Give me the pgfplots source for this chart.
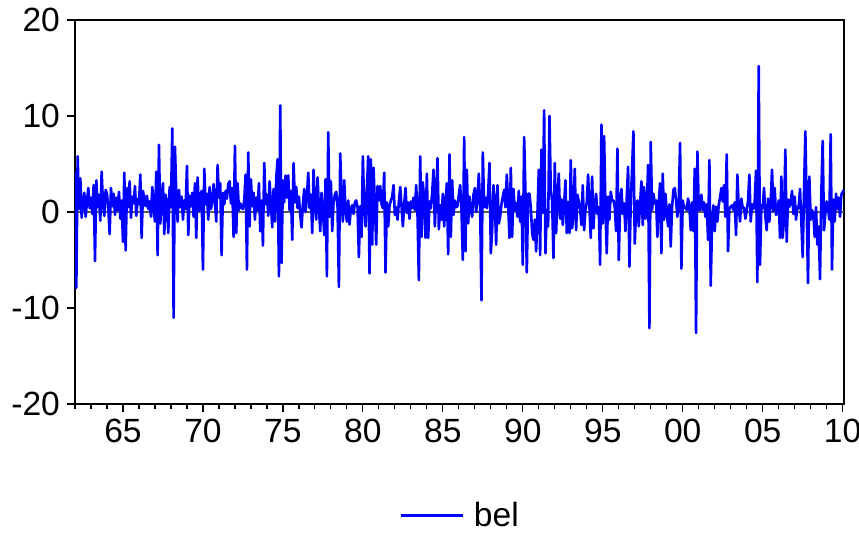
\documentclass[border=0pt]{standalone}
\usepackage{fontspec}
\setmainfont{Liberation Sans}
\usepackage{pgfplots}
\pgfplotsset{compat=1.18}
\begin{document}
\begin{tikzpicture}
\useasboundingbox (-37.5pt,-65pt) rectangle (392pt,202pt);
\begin{axis}[
  at={(0,0)}, anchor=south west,
  scale only axis, width=384.5pt, height=192pt,
  xmin=0, xmax=577, ymin=-20, ymax=20,
  axis line style={line width=1pt},
  xtick={36,96,...,576},
  xticklabels={65,70,75,80,85,90,95,00,05,10},
  minor xtick={0,12,...,576},
  ytick={-20,-10,0,10,20},
  yticklabels={-20,-10,0,10,20},
  xtick pos=lower, ytick pos=left,
  tick align=outside,
  major tick length=4pt, minor tick length=2.5pt,
  every tick/.style={black, line width=0.6pt},
  tick label style={font=\fontsize{16.8}{18}\selectfont},
  legend style={at={(0.502,-0.29)}, anchor=center, draw=none, fill=none,
    font=\fontsize{16.8}{18}\selectfont},
  legend image code/.code={\draw[#1] (0pt,0pt) -- (31pt,0pt);},
]
\addplot[color=black!65, line width=0.7pt, forget plot] coordinates {(0,0) (577,0)};
\addplot[color={rgb,1:red,0;green,0;blue,1}, line width=1.3pt, line join=round, mark=none]
  table[row sep=\\, header=false, x expr=\coordindex, y index=0] {
4.2\\ -7.9\\ 5.8\\ 0.3\\ 3.5\\ -0.6\\ 1.2\\ 2.0\\ -0.5\\ 1.1\\ 2.5\\ 0.4\\
1.5\\ -0.2\\ 2.8\\ -5.1\\ 3.3\\ 0.5\\ 1.8\\ -0.9\\ 4.2\\ 0.8\\ -0.4\\ 2.3\\
1.9\\ 0.4\\ -2.3\\ 2.5\\ 0.6\\ 1.9\\ -0.3\\ 1.5\\ 0.2\\ 2.1\\ -0.7\\ 1.2\\
-3.1\\ 4.1\\ -4.0\\ 2.5\\ 0.5\\ 3.2\\ -0.6\\ 1.6\\ 0.9\\ 2.7\\ -0.4\\ 1.3\\
0.8\\ 3.9\\ -2.7\\ 2.2\\ 1.4\\ 0.6\\ 1.7\\ 0.3\\ 1.1\\ -0.5\\ 2.6\\ 0.4\\
-1.0\\ 4.2\\ -4.5\\ 7.0\\ -1.2\\ 1.5\\ 3.0\\ -2.3\\ 1.8\\ 0.9\\ -2.2\\ 2.6\\
0.5\\ 8.7\\ -11.0\\ 6.8\\ 2.0\\ -1.0\\ 2.3\\ 0.5\\ 1.6\\ -0.8\\ 1.2\\ 0.3\\
4.8\\ -2.4\\ 1.7\\ 0.6\\ 2.0\\ -0.5\\ 3.0\\ -2.7\\ 3.6\\ 0.1\\ 1.5\\ 2.2\\
-6.0\\ 4.5\\ 0.8\\ 1.9\\ -0.8\\ 2.6\\ 0.3\\ 1.0\\ 2.9\\ 1.2\\ -1.0\\ 4.9\\
1.5\\ 3.0\\ -4.5\\ 2.0\\ 0.8\\ 2.2\\ 1.4\\ 2.9\\ 3.2\\ 0.9\\ 2.5\\ -2.6\\
6.9\\ -2.2\\ 3.0\\ 0.2\\ 0.9\\ 0.5\\ 0.3\\ 1.2\\ 3.9\\ -6.0\\ 6.2\\ -1.5\\
3.4\\ 0.6\\ 2.0\\ -0.8\\ 1.5\\ 0.2\\ 3.0\\ -2.0\\ 1.2\\ -3.5\\ 5.1\\ 0.8\\
1.8\\ -0.4\\ 3.2\\ 0.9\\ -1.6\\ 2.4\\ -1.0\\ 3.5\\ 5.5\\ -6.7\\ 11.1\\ -5.3\\
3.3\\ 1.0\\ 3.8\\ 1.5\\ 3.8\\ 0.2\\ 2.2\\ -2.9\\ 5.1\\ 1.0\\ 2.6\\ 0.4\\
1.6\\ -0.3\\ -1.6\\ 0.8\\ 2.4\\ 0.0\\ 1.5\\ 4.1\\ 0.4\\ 1.8\\ -2.2\\ 4.4\\
0.6\\ -0.8\\ 3.6\\ 0.5\\ -2.0\\ 2.0\\ 0.3\\ -2.4\\ 3.4\\ -6.7\\ 8.3\\ -0.5\\
3.2\\ -2.0\\ 1.0\\ 1.8\\ 2.1\\ 0.5\\ -7.8\\ 6.1\\ 1.5\\ -1.0\\ 3.3\\ 0.2\\
-1.0\\ 1.2\\ -1.3\\ 0.4\\ 0.7\\ -0.2\\ 1.0\\ 1.2\\ 0.5\\ -4.7\\ 0.6\\ -2.6\\
5.8\\ 0.5\\ -1.5\\ 2.3\\ 5.8\\ -6.4\\ 5.5\\ -3.4\\ 4.6\\ 0.8\\ -3.4\\ 2.7\\
1.2\\ 2.7\\ 0.8\\ 0.4\\ 4.1\\ -6.3\\ 1.0\\ -1.5\\ 0.6\\ 1.2\\ 1.6\\ 2.8\\
-0.3\\ 0.5\\ -0.8\\ 1.0\\ 2.6\\ 0.6\\ -1.5\\ 0.8\\ 2.5\\ -0.1\\ 1.0\\ -0.7\\
1.1\\ 0.4\\ 1.5\\ 0.2\\ 2.8\\ -0.3\\ -7.1\\ 5.8\\ -2.6\\ 3.1\\ 1.2\\ -2.7\\
4.0\\ -2.7\\ 1.1\\ 0.4\\ 2.0\\ 4.4\\ -1.5\\ 1.8\\ 5.6\\ -1.8\\ 0.7\\ -0.8\\
1.9\\ -1.5\\ 1.0\\ 3.0\\ -4.4\\ 6.0\\ -2.6\\ 3.3\\ -0.3\\ 1.2\\ 0.5\\ 0.6\\
1.8\\ 2.8\\ 0.2\\ -5.0\\ 7.8\\ -4.1\\ 4.4\\ -1.2\\ 1.6\\ 0.3\\ -0.5\\ 1.8\\
2.5\\ 0.0\\ 1.5\\ 4.0\\ 0.4\\ -9.2\\ 6.2\\ 0.5\\ 1.5\\ 0.4\\ 2.0\\ 5.1\\
-4.3\\ -1.9\\ 2.8\\ 1.0\\ -3.4\\ 2.8\\ -1.2\\ -0.5\\ 0.8\\ 1.6\\ 2.3\\ 0.5\\
3.9\\ 0.8\\ -2.7\\ 4.6\\ -2.6\\ 2.4\\ 0.2\\ 0.9\\ -0.5\\ 2.2\\ -1.0\\ 1.6\\
-5.5\\ 7.8\\ 2.0\\ -6.3\\ 1.9\\ 1.9\\ 0.5\\ -2.2\\ -2.9\\ -0.8\\ -4.1\\ -0.1\\
4.4\\ -4.5\\ 6.5\\ -0.1\\ 10.6\\ -4.3\\ 0.2\\ -1.5\\ 10.0\\ 2.3\\ 1.2\\ -4.8\\
5.1\\ -2.2\\ 1.5\\ 4.0\\ -0.7\\ 1.3\\ -1.35\\ 0.8\\ 3.3\\ -2.2\\ 1.0\\ -2.2\\
5.4\\ -1.7\\ -0.2\\ 4.5\\ -1.9\\ 1.8\\ 1.1\\ 0.3\\ -1.35\\ 2.8\\ -1.9\\ 0.2\\
1.0\\ 3.9\\ 0.5\\ -2.7\\ 3.7\\ -1.7\\ 0.8\\ 1.9\\ -0.2\\ 0.5\\ -5.5\\ 9.1\\
-1.2\\ 7.9\\ 0.5\\ -4.3\\ 1.6\\ -0.8\\ 2.1\\ 1.2\\ 1.2\\ 0.5\\ -2.0\\ 6.6\\
-5.0\\ 0.8\\ 2.4\\ -0.2\\ 0.9\\ -2.0\\ 1.5\\ 4.7\\ -5.7\\ 1.0\\ 4.5\\ 8.4\\
-3.3\\ 0.2\\ 1.2\\ -1.5\\ 0.8\\ 3.2\\ -1.35\\ 2.6\\ -0.7\\ 0.2\\ 4.9\\ -12.1\\
7.3\\ 0.2\\ 1.9\\ 0.9\\ 1.2\\ -2.6\\ 1.0\\ 3.0\\ -4.3\\ 4.0\\ -0.8\\ 1.9\\
0.0\\ -1.5\\ 0.8\\ -3.6\\ 0.5\\ 2.3\\ 2.5\\ 1.2\\ -0.5\\ 1.0\\ 7.2\\ -5.9\\
1.2\\ 0.4\\ 0.55\\ 0.2\\ 1.4\\ 0.5\\ -1.9\\ 1.0\\ -2.0\\ 4.5\\ -12.6\\ 6.3\\
0.55\\ 0.2\\ 1.8\\ 0.2\\ 1.0\\ -0.5\\ 0.8\\ -2.9\\ 5.4\\ -7.7\\ -1.2\\ 0.7\\
-2.0\\ 0.55\\ -1.0\\ 0.7\\ 1.5\\ 2.5\\ 1.1\\ 2.8\\ -0.5\\ 6.0\\ -4.1\\ 0.4\\
0.55\\ 0.7\\ 0.2\\ 1.0\\ -2.4\\ 3.9\\ 0.6\\ -1.0\\ 1.4\\ 0.4\\ 0.45\\ -0.7\\
0.1\\ 1.2\\ 3.9\\ -1.0\\ 0.8\\ 0.3\\ 1.1\\ 4.3\\ -7.3\\ 15.2\\ -5.5\\ 0.7\\
0.4\\ 2.5\\ -0.5\\ -1.9\\ 1.4\\ -1.0\\ 1.0\\ 4.4\\ 0.1\\ 2.5\\ -0.3\\ 0.1\\
1.2\\ -2.7\\ 3.7\\ -2.7\\ -0.7\\ 6.5\\ -3.1\\ 1.3\\ 0.55\\ 1.0\\ 2.2\\ -0.2\\
1.6\\ -0.8\\ 0.55\\ 0.4\\ 2.4\\ -1.0\\ -4.7\\ 2.0\\ 8.4\\ 0.5\\ -7.4\\ 3.7\\
-0.8\\ 0.2\\ -0.2\\ -2.6\\ 0.5\\ -3.4\\ -1.5\\ -7.0\\ 2.0\\ 7.4\\ -1.9\\ -0.2\\
1.1\\ 0.55\\ -0.8\\ 8.1\\ -6.0\\ 1.3\\ -1.0\\ 1.9\\ 0.3\\ 1.5\\ -0.5\\ 1.8\\
2.1\\ 2.3\\
};
\addlegendentry{\hspace{3pt}bel}
\end{axis}
\end{tikzpicture}
\end{document}
